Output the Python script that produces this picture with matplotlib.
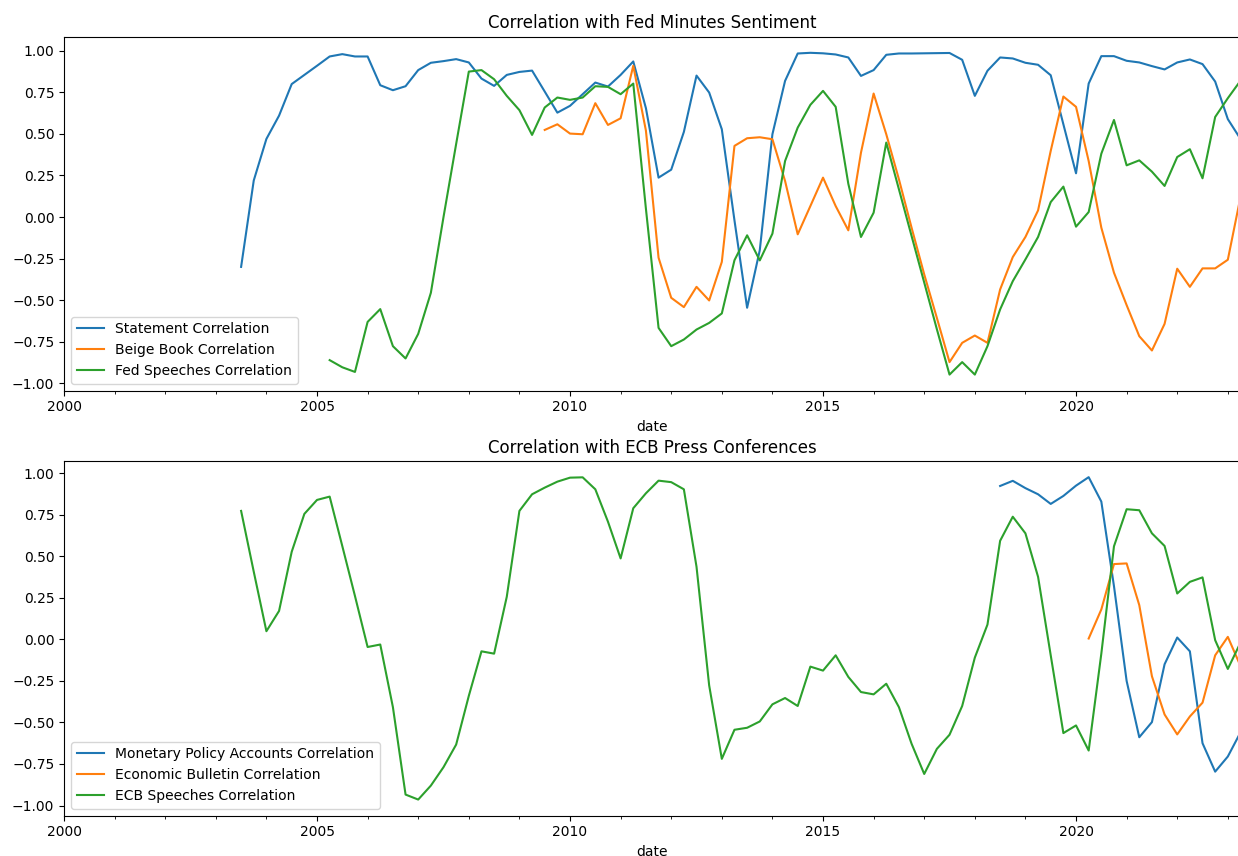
import pandas as pd
import matplotlib
matplotlib.use('Agg')
import matplotlib.pyplot as plt

# quarterly index used by both panels
dates = pd.period_range('2000Q1', '2023Q2', freq='Q')

# Fed minutes correlations
statement_start = '2003Q3'
statement_corr = [-0.30, 0.22, 0.47, 0.61, 0.80, 0.855, 0.91, 0.966, 0.98, 0.966,
                  0.966, 0.793, 0.763, 0.787, 0.884, 0.928, 0.938, 0.95, 0.93, 0.833,
                  0.789, 0.855, 0.873, 0.881, 0.755, 0.628, 0.669, 0.739, 0.809, 0.785,
                  0.855, 0.936, 0.655, 0.237, 0.285, 0.512, 0.851, 0.749, 0.528, -0.02,
                  -0.546, -0.2, 0.498, 0.819, 0.984, 0.988, 0.985, 0.978, 0.96, 0.849,
                  0.884, 0.976, 0.984, 0.984, 0.985, 0.986, 0.987, 0.946, 0.729, 0.88,
                  0.96, 0.954, 0.928, 0.916, 0.853, 0.558, 0.263, 0.803, 0.968, 0.968,
                  0.94, 0.93, 0.908, 0.888, 0.93, 0.948, 0.92, 0.815, 0.589, 0.47]

beige_start = '2009Q3'
beige_corr = [0.524, 0.558, 0.502, 0.498, 0.685, 0.554, 0.594, 0.91, 0.52, -0.245,
              -0.486, -0.542, -0.42, -0.502, -0.27, 0.428, 0.474, 0.48, 0.468, 0.217,
              -0.104, 0.066, 0.237, 0.066, -0.08, 0.387, 0.743, 0.498, 0.227, -0.064,
              -0.345, -0.607, -0.873, -0.757, -0.713, -0.757, -0.436, -0.241, -0.12, 0.04,
              0.398, 0.725, 0.663, 0.337, -0.064, -0.335, -0.53, -0.717, -0.803, -0.643,
              -0.311, -0.42, -0.309, -0.309, -0.257, 0.12]

fed_speech_start = '2005Q2'
fed_speech_corr = [-0.861, -0.904, -0.932, -0.631, -0.554, -0.777, -0.851, -0.703, -0.456, 0.0,
                   0.44, 0.875, 0.884, 0.829, 0.729, 0.643, 0.494, 0.659, 0.719, 0.705,
                   0.719, 0.787, 0.783, 0.739, 0.803, 0.05, -0.667, -0.777, -0.737, -0.677,
                   -0.637, -0.58, -0.26, -0.11, -0.261, -0.1, 0.337, 0.538, 0.675, 0.759,
                   0.663, 0.2, -0.12, 0.026, 0.448, 0.167, -0.114, -0.394, -0.675, -0.948,
                   -0.873, -0.948, -0.777, -0.556, -0.386, -0.255, -0.12, 0.09, 0.183, -0.058,
                   0.03, 0.381, 0.584, 0.311, 0.341, 0.273, 0.187, 0.361, 0.408, 0.233,
                   0.602, 0.715, 0.82]

# ECB press conference correlations
mpa_start = '2018Q3'
mpa_corr = [0.923, 0.954, 0.91, 0.873, 0.815, 0.863, 0.925, 0.976, 0.829, 0.32,
            -0.25, -0.589, -0.498, -0.15, 0.011, -0.072, -0.625, -0.796, -0.705, -0.56]

bulletin_start = '2020Q2'
bulletin_corr = [0.005, 0.18, 0.453, 0.457, 0.206, -0.222, -0.452, -0.572, -0.464, -0.381,
                 -0.096, 0.015, -0.16]

ecb_speech_start = '2003Q3'
ecb_speech_corr = [0.773, 0.407, 0.049, 0.171, 0.527, 0.755, 0.839, 0.859, 0.561, 0.261,
                   -0.046, -0.031, -0.408, -0.934, -0.964, -0.88, -0.769, -0.633, -0.34, -0.072,
                   -0.086, 0.256, 0.773, 0.873, 0.913, 0.949, 0.973, 0.975, 0.903, 0.708,
                   0.487, 0.789, 0.879, 0.955, 0.946, 0.903, 0.437, -0.277, -0.719, -0.544,
                   -0.532, -0.494, -0.391, -0.353, -0.401, -0.164, -0.188, -0.096, -0.226, -0.317,
                   -0.331, -0.267, -0.408, -0.628, -0.81, -0.659, -0.574, -0.401, -0.11, 0.089,
                   0.593, 0.738, 0.638, 0.376, -0.096, -0.564, -0.518, -0.669, -0.086, 0.56,
                   0.783, 0.777, 0.638, 0.562, 0.276, 0.346, 0.373, -0.005, -0.178, -0.02]


def to_series(start, values):
    idx = pd.period_range(start, periods=len(values), freq='Q')
    return pd.Series(values, index=idx).reindex(dates)


fed_df = pd.DataFrame({
    'Statement Correlation': to_series(statement_start, statement_corr),
    'Beige Book Correlation': to_series(beige_start, beige_corr),
    'Fed Speeches Correlation': to_series(fed_speech_start, fed_speech_corr),
}, index=dates)
fed_df.index.name = 'date'

ecb_df = pd.DataFrame({
    'Monetary Policy Accounts Correlation': to_series(mpa_start, mpa_corr),
    'Economic Bulletin Correlation': to_series(bulletin_start, bulletin_corr),
    'ECB Speeches Correlation': to_series(ecb_speech_start, ecb_speech_corr),
}, index=dates)
ecb_df.index.name = 'date'

fig = plt.figure(figsize=(12.38, 8.56), dpi=100)
ax1 = fig.add_axes([0.0517, 0.5436, 0.9503, 0.4135])
ax2 = fig.add_axes([0.0517, 0.0471, 0.9503, 0.4143])

fed_df.plot(ax=ax1, title='Correlation with Fed Minutes Sentiment')
ax1.legend(loc='lower left')

ecb_df.plot(ax=ax2, title='Correlation with ECB Press Conferences')
ax2.legend(loc='lower left')

fig.savefig('out.png', dpi=100)
